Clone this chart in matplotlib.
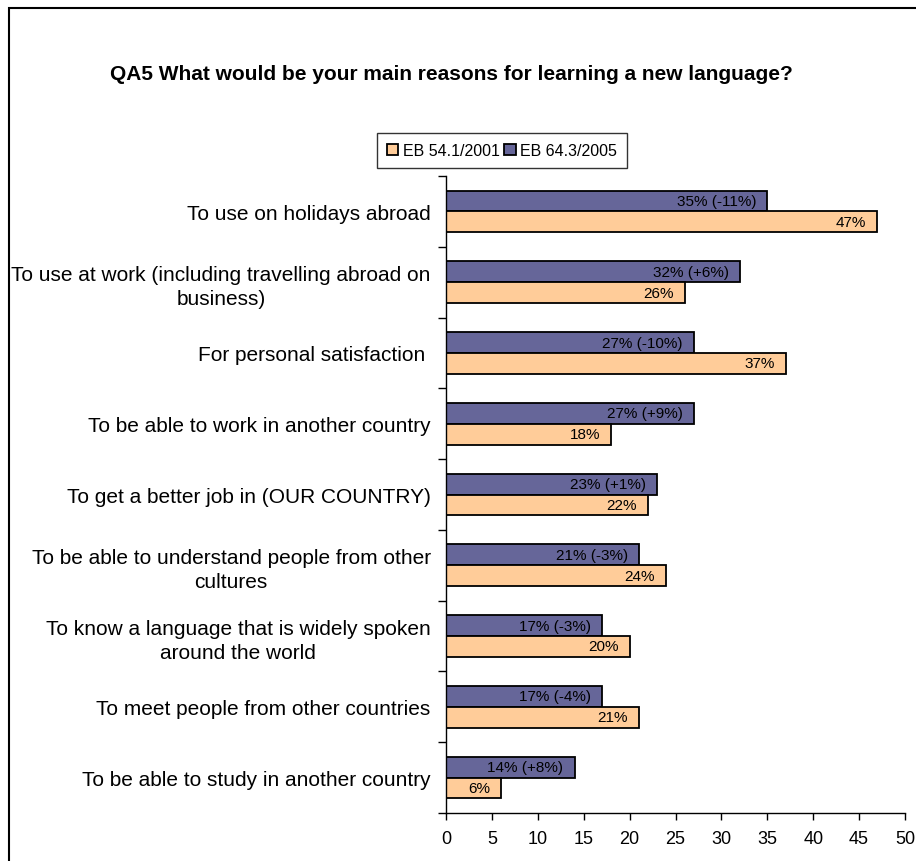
import matplotlib
matplotlib.use("Agg")
import matplotlib.pyplot as plt
from matplotlib.patches import Rectangle
import numpy as np

plt.rcParams['font.family'] = ['Liberation Sans', 'DejaVu Sans']

# data (top to bottom as in the chart)
reasons = [
    "To use on holidays abroad",
    "To use at work (including travelling abroad on\nbusiness)",
    "For personal satisfaction ",
    "To be able to work in another country",
    "To get a better job in (OUR COUNTRY)",
    "To be able to understand people from other\ncultures",
    "To know a language that is widely spoken\naround the world",
    "To meet people from other countries",
    "To be able to study in another country",
]
eb2001 = [47, 26, 37, 18, 22, 24, 20, 21, 6]
eb2005 = [35, 32, 27, 27, 23, 21, 17, 17, 14]
change = ["-11", "+6", "-10", "+9", "+1", "-3", "-3", "-4", "+8"]
series_names = ["EB 54.1/2001", "EB 64.3/2005"]
xticks = [0, 5, 10, 15, 20, 25, 30, 35, 40, 45, 50]

c2001 = "#FFCC99"
c2005 = "#666699"

fig = plt.figure(figsize=(9.16, 8.62), dpi=100)
W, H = 916, 862
ax = fig.add_axes([446 / W, 1 - 814 / H, (905 - 446) / W, (814 - 177) / H])

n = len(reasons)
y = np.arange(n)[::-1]
h = 0.295

b05 = ax.barh(y + h / 2, eb2005, height=h, color=c2005, edgecolor="black", lw=1.3,
              label=series_names[1])
b01 = ax.barh(y - h / 2, eb2001, height=h, color=c2001, edgecolor="black", lw=1.3,
              label=series_names[0])

for yy, v, c in zip(y, eb2005, change):
    ax.annotate("{}% ({}%)".format(v, c), (v, yy + h / 2), xytext=(-8, 0),
                textcoords="offset points", ha="right", va="center", fontsize=11)
for yy, v in zip(y, eb2001):
    ax.annotate("{}%".format(v), (v, yy - h / 2), xytext=(-8, 0),
                textcoords="offset points", ha="right", va="center", fontsize=11)

ax.set_xlim(0, 50)
ax.set_ylim(-0.5, n - 0.5)
ax.set_xticks(xticks)
ax.tick_params(axis="x", direction="out", length=5, width=1, labelsize=13, pad=7)

ax.set_yticks(y)
ax.set_yticklabels(reasons, fontsize=15)
ax.tick_params(axis="y", which="major", length=0, pad=11)
for lbl in ax.get_yticklabels():
    lbl.set_multialignment("center")
    lbl.set_linespacing(1.3)
ax.set_yticks(np.arange(n + 1) - 0.5, minor=True)
ax.tick_params(axis="y", which="minor", direction="out", length=6, width=1)

for s in ["top", "right"]:
    ax.spines[s].set_visible(False)
for s in ["left", "bottom"]:
    ax.spines[s].set_linewidth(1)

fig.text(0.5 * (107 + 796) / W, 1 - 75 / H,
         "QA5 What would be your main reasons for learning a new language?",
         ha="center", va="center", fontsize=15, fontweight="bold")

leg = fig.legend(handles=[b01, b05], labels=series_names, loc="center",
                 bbox_to_anchor=(502 / W, 1 - 151.5 / H), ncol=2, fontsize=11.5,
                 frameon=True, fancybox=False, edgecolor="black", handlelength=0.7,
                 handleheight=0.7, handletextpad=0.3, columnspacing=0.3,
                 borderpad=0.6, borderaxespad=0)
leg.get_frame().set_linewidth(1)

fig.patches.append(Rectangle((9 / W, -0.1), 1.2, 1.1 - 9 / H, transform=fig.transFigure,
                             fill=False, edgecolor="black", lw=1.5))

fig.savefig("out.png", dpi=100)
